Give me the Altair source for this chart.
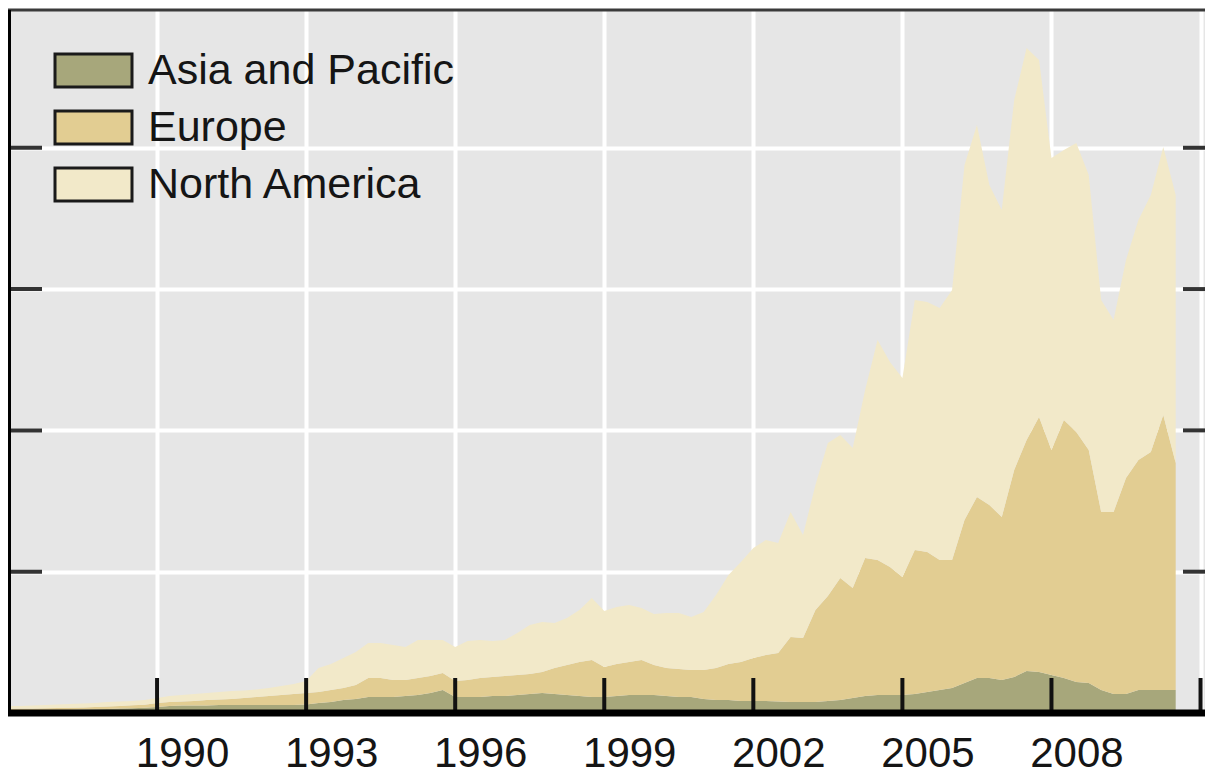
import altair as alt
import pandas as pd

regions = ["Asia and Pacific", "Europe", "North America"]
colors = ["#a7a77b", "#e2cd92", "#f2e9c9"]

# quarterly observations, 1987Q1 .. 2010Q3
quarters = [1987.0 + 0.25 * i for i in range(95)]

asia = [0.015, 0.016, 0.017, 0.018, 0.020, 0.022, 0.024, 0.026, 0.028, 0.031,
        0.034, 0.037, 0.042, 0.050, 0.053, 0.053, 0.053, 0.057, 0.057, 0.057,
        0.057, 0.057, 0.057, 0.057, 0.060, 0.071, 0.078, 0.092, 0.099, 0.113,
        0.113, 0.113, 0.120, 0.127, 0.142, 0.163, 0.113, 0.113, 0.113, 0.120,
        0.120, 0.127, 0.134, 0.142, 0.134, 0.127, 0.120, 0.113, 0.113, 0.120,
        0.127, 0.127, 0.127, 0.120, 0.113, 0.113, 0.099, 0.092, 0.092, 0.085,
        0.085, 0.085, 0.081, 0.078, 0.078, 0.078, 0.085, 0.092, 0.106, 0.120,
        0.127, 0.127, 0.127, 0.134, 0.149, 0.163, 0.177, 0.212, 0.248, 0.248,
        0.234, 0.255, 0.297, 0.290, 0.269, 0.248, 0.219, 0.212, 0.163, 0.134,
        0.134, 0.163, 0.163, 0.163, 0.163]

europe = [0.015, 0.015, 0.015, 0.015, 0.015, 0.015, 0.015, 0.016, 0.018, 0.019,
          0.020, 0.021, 0.029, 0.028, 0.028, 0.032, 0.039, 0.039, 0.042, 0.049,
          0.056, 0.063, 0.070, 0.077, 0.082, 0.078, 0.085, 0.085, 0.099, 0.135,
          0.135, 0.121, 0.114, 0.121, 0.120, 0.120, 0.113, 0.121, 0.135, 0.135,
          0.142, 0.142, 0.142, 0.148, 0.184, 0.213, 0.241, 0.262, 0.213, 0.227,
          0.234, 0.248, 0.213, 0.198, 0.198, 0.191, 0.205, 0.226, 0.255, 0.276,
          0.304, 0.325, 0.344, 0.460, 0.453, 0.651, 0.743, 0.863, 0.779, 0.977,
          0.956, 0.906, 0.835, 1.020, 0.990, 0.920, 0.906, 1.154, 1.281, 1.224,
          1.153, 1.465, 1.635, 1.805, 1.592, 1.826, 1.770, 1.649, 1.260, 1.289,
          1.529, 1.628, 1.684, 1.946, 1.606]

north_america = [0.020, 0.019, 0.021, 0.024, 0.025, 0.027, 0.028, 0.029, 0.032, 0.031,
                 0.031, 0.034, 0.035, 0.042, 0.046, 0.049, 0.050, 0.053, 0.057, 0.053,
                 0.053, 0.057, 0.064, 0.071, 0.084, 0.169, 0.184, 0.212, 0.234, 0.247,
                 0.247, 0.247, 0.233, 0.269, 0.255, 0.234, 0.241, 0.276, 0.269, 0.255,
                 0.255, 0.297, 0.347, 0.354, 0.319, 0.332, 0.368, 0.439, 0.396, 0.403,
                 0.403, 0.368, 0.361, 0.390, 0.397, 0.375, 0.411, 0.517, 0.630, 0.708,
                 0.779, 0.814, 0.778, 0.885, 0.729, 0.885, 1.083, 1.012, 0.990, 1.189,
                 1.557, 1.451, 1.409, 1.769, 1.770, 1.783, 1.911, 2.512, 2.632, 2.265,
                 2.173, 2.618, 2.774, 2.526, 2.067, 1.910, 2.045, 1.946, 1.500, 1.358,
                 1.543, 1.698, 1.819, 1.897, 1.897]

grid_years = [1987, 1990, 1993, 1996, 1999, 2002, 2005, 2008, 2011]
tick_years = [1990, 1993, 1996, 1999, 2002, 2005, 2008, 2011]
y_grid = [0, 1, 2, 3, 4]
y_ticks = [1, 2, 3, 4]

rows = []
for k, (name, vals) in enumerate(zip(regions, [asia, europe, north_america])):
    for t, v in zip(quarters, vals):
        rows.append({"year": t, "region": name, "value": v, "ord": k})
df = pd.DataFrame(rows)

W, H = 1197, 703
FONT = "Liberation Sans"
xscale = alt.Scale(domain=[1987, 2011.09], nice=False, zero=False)
yscale = alt.Scale(domain=[0, 4.975], nice=False, zero=True)

area = alt.Chart(df).mark_area(opacity=1, interpolate="linear").encode(
    x=alt.X("year:Q", scale=xscale,
            axis=alt.Axis(values=grid_years, format="d", title=None, grid=True,
                          gridColor="#ffffff", gridWidth=4, ticks=False, tickSize=0,
                          domain=False, labelFont=FONT, labelFontSize=42,
                          labelColor="#151515", labelPadding=20, labelOffset=25,
                          labelFlush=False,
                          labelExpr="datum.value == 1987 || datum.value == 2011 ? '' : datum.label")),
    y=alt.Y("value:Q", stack="zero", scale=yscale,
            axis=alt.Axis(values=y_grid, grid=True, gridColor="#ffffff", gridWidth=4,
                          labels=False, ticks=False, domain=False, title=None)),
    color=alt.Color("region:N", scale=alt.Scale(domain=regions, range=colors),
                    legend=alt.Legend(title=None, orient="none", legendX=64, legendY=39,
                                      symbolType="M-2.333,-1H2.333V1H-2.333Z",
                                      symbolSize=1089, symbolStrokeColor="#1a1a1a",
                                      symbolStrokeWidth=3, symbolOpacity=1,
                                      labelFont=FONT, labelFontSize=43,
                                      labelColor="#151515", labelOffset=33,
                                      labelLimit=700, rowPadding=12, padding=0)),
    order=alt.Order("ord:Q", sort="ascending"),
)

xt = alt.Chart(pd.DataFrame({"year": tick_years})).mark_rule(
    color="#111111", strokeWidth=4).encode(
    x=alt.X("year:Q", scale=xscale), y=alt.value(H - 35), y2=alt.value(H))

yt_df = pd.DataFrame({"v": y_ticks})
ytl = alt.Chart(yt_df).mark_rule(color="#333333", strokeWidth=4).encode(
    y=alt.Y("v:Q", scale=yscale), x=alt.value(0), x2=alt.value(34))
ytr = alt.Chart(yt_df).mark_rule(color="#333333", strokeWidth=4).encode(
    y=alt.Y("v:Q", scale=yscale), x=alt.value(W - 22), x2=alt.value(W))

one = pd.DataFrame({"a": [0]})
top = alt.Chart(one).mark_rule(color="#3a3a3a", strokeWidth=3).encode(
    x=alt.value(0), x2=alt.value(W), y=alt.value(0))
bottom = alt.Chart(one).mark_rule(color="#000000", strokeWidth=7).encode(
    x=alt.value(0), x2=alt.value(W), y=alt.value(H))
left = alt.Chart(one).mark_rule(color="#000000", strokeWidth=4).encode(
    x=alt.value(1), y=alt.value(0), y2=alt.value(H))

chart = alt.layer(area, xt, ytl, ytr, top, bottom, left).properties(
    width=W, height=H,
    padding={"left": 0, "top": 2, "right": 0, "bottom": 56},
    autosize=alt.AutoSizeParams(type="none"),
    background="#ffffff",
).configure_view(fill="#e6e6e6", strokeWidth=0)

chart.save("out.html", embed_options={"renderer": "svg", "actions": False})
